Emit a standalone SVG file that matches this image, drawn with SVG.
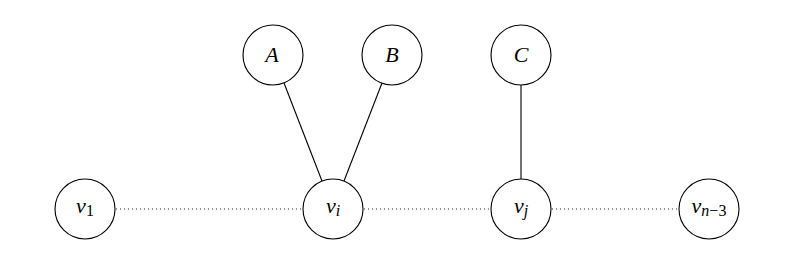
<svg xmlns="http://www.w3.org/2000/svg" width="793" height="256" viewBox="0 0 793 256">
<style>
.node circle{fill:#fff;stroke:#000;stroke-width:1.1}
text{font-family:'Liberation Serif','DejaVu Serif','Times New Roman',serif;font-size:22px;font-style:italic;fill:#000;text-anchor:middle}
.sub{font-size:16px}
.up{font-style:normal}
.edge{stroke:#000;stroke-width:1.1;fill:none}
.dot{stroke:#000;stroke-width:1.1;fill:none;stroke-dasharray:0.8 3.2}
</style>
<rect width="793" height="256" fill="#fff"/>
<g id="connectors">
<line class="edge" x1="284" y1="83" x2="322" y2="181"/>
<line class="edge" x1="382" y1="83" x2="344" y2="181"/>
<line class="edge" x1="521" y1="85" x2="521" y2="179"/>
<line class="dot" x1="116" y1="209" x2="302" y2="209"/>
<line class="dot" x1="364" y1="209" x2="490" y2="209"/>
<line class="dot" x1="552" y1="209" x2="679" y2="209"/>
</g>
<g id="A" class="node"><circle cx="273" cy="55" r="30"/><text x="272" y="62">A</text></g>
<g id="B" class="node"><circle cx="392" cy="55" r="30"/><text x="392" y="62">B</text></g>
<g id="C" class="node"><circle cx="521" cy="55" r="30"/><text x="521" y="62">C</text></g>
<g id="v1" class="node"><circle cx="85" cy="209" r="30"/><text x="85" y="213">v<tspan class="sub up" dy="3">1</tspan></text></g>
<g id="vi" class="node"><circle cx="333" cy="209" r="30"/><text x="333" y="213">v<tspan class="sub" dy="3">i</tspan></text></g>
<g id="vj" class="node"><circle cx="521" cy="209" r="30"/><text x="521" y="213">v<tspan class="sub" dy="3">j</tspan></text></g>
<g id="vn3" class="node"><circle cx="709" cy="209" r="30"/><text x="709" y="213">v<tspan class="sub" dy="3">n</tspan><tspan class="sub up">−3</tspan></text></g>
</svg>
